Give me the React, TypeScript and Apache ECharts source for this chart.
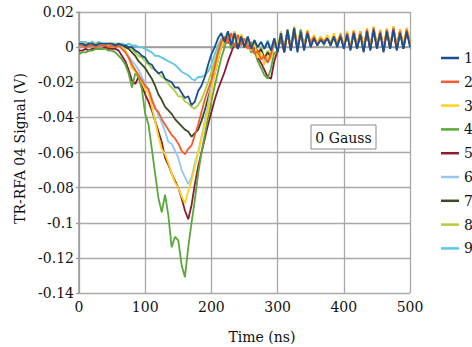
import React, { useEffect, useRef } from "react";
import * as echarts from "echarts";

// Sampling step of the recorded traces (ns)
const TIME_STEP_NS = 5;

const SERIES_NAMES = ["1", "2", "3", "4", "5", "6", "7", "8", "9"];
const COLORS = [
  "#1b4f8f",
  "#f75a2b",
  "#ffd21f",
  "#5aa73c",
  "#8b1a2e",
  "#94c8ee",
  "#3a4a22",
  "#b4cc3a",
  "#5cc6e6",
];

// Signal values in mV, one value every 5 ns from 0 to 500 ns
const S1_MV = [
  2, 2, 1, 2, 2, 1, 2, 2, 2, 2,
  2, 1, 2, 1, 1, 0, 0, -2, -3, -5,
  -6, -9, -10, -13, -15, -14, -18, -19, -20, -23,
  -23, -26, -29, -28, -33, -31, -25, -22, -17, -10,
  -4, 0, 5, 8, 3, 9, 1, 8, -1, 6,
  0, 6, -1, 4, 0, 3, -1, 3, -2, 5,
  -3, 8, -3, 10, -2, 11, -3, 9, -2, 8,
  0, 5, 1, 4, 2, 5, 1, 6, 0, 6,
  -1, 7, -2, 8, -1, 7, -3, 9, -2, 10,
  -1, 8, -3, 9, -1, 10, -2, 8, -1, 9,
  0,
];
const S2_MV = [
  1, 1, 0, 1, 1, 0, 1, 1, 1, 0,
  1, 0, 1, -1, -3, -6, -10, -13, -16, -19,
  -22, -24, -30, -35, -37, -41, -44, -47, -50, -52,
  -55, -59, -61, -58, -56, -50, -44, -37, -30, -24,
  -19, -11, -3, 3, 6, 2, 8, 0, 7, 1,
  5, -1, 3, -4, -2, -7, -5, -9, -4, 3,
  -2, 7, -1, 9, -2, 10, 0, 8, -1, 9,
  2, 6, 1, 5, 3, 5, 2, 6, 1, 7,
  0, 8, -1, 9, 0, 8, -2, 10, -1, 11,
  0, 9, -2, 10, 0, 11, -1, 9, 0, 10,
  2,
];
const S3_MV = [
  1, 1, 1, 2, 1, 1, 1, 2, 1, 1,
  1, 0, 1, 0, -2, -6, -12, -14, -16, -20,
  -24, -26, -34, -42, -51, -58, -61, -66, -72, -77,
  -80, -85, -89, -82, -76, -68, -60, -52, -44, -36,
  -25, -15, -7, 0, 4, 8, 1, 9, 2, 7,
  3, 5, -2, 2, -6, -3, -10, -5, -7, 4,
  -1, 9, 0, 10, -1, 12, 1, 9, 0, 10,
  3, 7, 2, 6, 3, 7, 2, 8, 2, 7,
  1, 9, 0, 10, 1, 9, -1, 11, 0, 12,
  1, 10, -1, 11, 1, 12, 0, 10, 1, 11,
  3,
];
const S4_MV = [
  -4, -3, -3, -2, -2, -1, -1, -1, -1, -2,
  -2, -3, -5, -7, -10, -15, -23, -15, -17, -24,
  -38, -44, -58, -72, -86, -94, -84, -96, -114, -108,
  -110, -124, -131, -114, -100, -87, -72, -60, -50, -40,
  -31, -22, -14, -6, 0, 6, -1, 7, 1, 5,
  0, 3, -3, -2, -8, -12, -16, -18, -12, -3,
  -3, 6, -2, 8, -1, 9, 0, 10, -1, 9,
  1, 5, 2, 6, 1, 6, 3, 5, 1, 6,
  0, 8, 0, 9, -1, 8, -1, 9, 0, 11,
  0, 9, -1, 10, 0, 10, -1, 9, 0, 8,
  2,
];
const S5_MV = [
  -2, -2, -1, -2, -1, -1, -1, -1, 0, -1,
  -1, -1, -2, -5, -8, -13, -19, -21, -17, -22,
  -27, -31, -36, -42, -48, -54, -63, -67, -72, -76,
  -80, -86, -93, -98, -90, -78, -68, -60, -52, -44,
  -37, -30, -24, -19, -14, -8, -3, 2, -1, 5,
  0, 4, -2, 0, -6, -9, -13, -17, -18, -8,
  -2, 5, -3, 8, -2, 10, -1, 8, 0, 9,
  2, 6, 1, 5, 3, 6, 2, 7, 2, 6,
  1, 7, 0, 8, -1, 9, 0, 8, -1, 10,
  1, 8, 0, 9, -1, 11, 0, 10, -1, 9,
  3,
];
const S6_MV = [
  1, 1, 1, 1, 1, 1, 1, 1, 1, 1,
  1, 1, 0, 0, -2, -5, -8, -10, -13, -17,
  -21, -24, -29, -34, -39, -43, -48, -54, -55, -59,
  -63, -70, -74, -78, -74, -66, -60, -51, -42, -32,
  -22, -14, -6, 1, 4, 7, 2, 8, 1, 6,
  2, 4, -2, 1, -5, -3, -8, -6, -5, 3,
  -2, 8, -1, 9, -1, 10, 1, 9, 0, 9,
  2, 6, 2, 5, 3, 6, 2, 7, 1, 7,
  1, 8, 0, 9, 1, 8, -1, 10, 0, 11,
  0, 9, -1, 10, 1, 11, 0, 9, 0, 10,
  2,
];
const S7_MV = [
  1, 1, 1, 1, 1, 1, 1, 1, 1, 1,
  1, 1, 0, 1, 0, -1, -3, -5, -8, -10,
  -12, -15, -18, -22, -27, -30, -34, -36, -38, -41,
  -43, -45, -47, -48, -51, -49, -47, -42, -36, -29,
  -22, -15, -7, 0, 3, 7, 1, 8, 0, 6,
  1, 5, -1, 3, -4, -1, -7, -3, -6, 4,
  -2, 8, -2, 9, 0, 11, -1, 9, 0, 8,
  1, 6, 2, 5, 2, 6, 1, 6, 2, 7,
  0, 8, -1, 9, 0, 9, -2, 10, -1, 10,
  0, 9, -2, 9, 0, 10, -1, 9, 0, 9,
  2,
];
const S8_MV = [
  2, 2, 2, 2, 2, 2, 2, 2, 1, 2,
  2, 2, 1, 1, 0, 0, -1, -3, -5, -6,
  -8, -10, -12, -13, -15, -17, -18, -21, -23, -25,
  -28, -28, -31, -32, -34, -35, -33, -30, -25, -20,
  -14, -8, -2, 4, 5, 8, 2, 9, 1, 7,
  2, 5, 0, 3, -3, 0, -6, -2, -4, 5,
  -1, 8, -2, 10, -1, 11, 0, 10, -1, 9,
  2, 6, 2, 6, 3, 6, 2, 7, 1, 8,
  0, 9, -1, 9, 0, 8, -2, 10, 0, 11,
  1, 10, -1, 10, 0, 12, -1, 10, 0, 11,
  2,
];
const S9_MV = [
  3, 3, 3, 2, 3, 2, 3, 2, 2, 2,
  2, 2, 2, 2, 1, 2, 1, 1, 0, 0,
  -1, -2, -3, -5, -5, -6, -7, -8, -9, -10,
  -12, -14, -15, -16, -18, -19, -17, -17, -16, -14,
  -10, -4, 1, 5, 4, 9, 2, 9, 0, 7,
  1, 6, 0, 4, 0, 3, -1, 4, -1, 5,
  -2, 9, -2, 10, -1, 11, -2, 10, -1, 9,
  1, 6, 2, 5, 2, 6, 1, 7, 1, 7,
  0, 8, -1, 9, 0, 8, -2, 9, -1, 11,
  0, 9, -2, 10, 0, 11, -1, 9, 0, 10,
  1,
];

const X_MIN = 0;
const X_MAX = 500;
const X_INTERVAL = 100;
const Y_MIN = -0.14;
const Y_MAX = 0.02;
const Y_INTERVAL = 0.02;

const FONT = "DejaVu Serif";

export default function App() {
  const ref = useRef<HTMLDivElement>(null);

  useEffect(() => {
    if (!ref.current) return;
    const chart = echarts.init(ref.current, null, { renderer: "svg" });
    const traces = [S1_MV, S2_MV, S3_MV, S4_MV, S5_MV, S6_MV, S7_MV, S8_MV, S9_MV];
    const series = traces.map((arr, i) => ({
      name: SERIES_NAMES[i],
      type: "line",
      data: arr.map((v, k) => [k * TIME_STEP_NS, v / 1000]),
      symbol: "none",
      showSymbol: false,
      z: 30 - i,
      lineStyle: { width: 1.8, color: COLORS[i] },
      itemStyle: { color: COLORS[i] },
      emphasis: { disabled: true },
    }));

    chart.setOption({
      animation: false,
      backgroundColor: "#ffffff",
      grid: { left: 79, right: 62, top: 12, bottom: 54, containLabel: false },
      xAxis: {
        type: "value",
        min: X_MIN,
        max: X_MAX,
        interval: X_INTERVAL,
        axisLine: { show: true, lineStyle: { color: "#9a9a9a", width: 1.5 } },
        axisTick: { show: true, length: 3, lineStyle: { color: "#9a9a9a", width: 1.3 } },
        splitLine: { show: true, lineStyle: { color: "#a8a8a8", width: 1.3 } },
        axisLabel: { color: "#111", fontFamily: FONT, fontSize: 14, margin: 7 },
      },
      yAxis: {
        type: "value",
        min: Y_MIN,
        max: Y_MAX,
        interval: Y_INTERVAL,
        axisLine: { show: true, lineStyle: { color: "#9a9a9a", width: 1.5 } },
        axisTick: { show: true, length: 3, lineStyle: { color: "#9a9a9a", width: 1.3 } },
        splitLine: { show: true, lineStyle: { color: "#a8a8a8", width: 1.3 } },
        axisLabel: {
          color: "#111",
          fontFamily: FONT,
          fontSize: 14,
          margin: 5,
          formatter: (v: number) => String(parseFloat(v.toFixed(2))),
        },
      },
      legend: {
        orient: "vertical",
        left: 436,
        top: 46,
        itemWidth: 18,
        itemHeight: 2.5,
        itemGap: 9.8,
        icon: "rect",
        data: SERIES_NAMES,
        textStyle: { fontFamily: FONT, fontSize: 14, color: "#111", lineHeight: 14 },
      },
      graphic: [
        {
          type: "rect",
          shape: { x: 311, y: 125, width: 65, height: 24 },
          style: { fill: "#ffffff", stroke: "#8a8a8a", lineWidth: 1 },
          z: 100,
        },
        {
          type: "text",
          x: 343.5,
          y: 137.5,
          style: {
            text: "0 Gauss",
            fontFamily: FONT,
            fontSize: 14,
            fill: "#111",
            align: "center",
            verticalAlign: "middle",
          },
          z: 101,
        },
        {
          type: "text",
          x: 262,
          y: 337,
          style: {
            text: "Time (ns)",
            fontFamily: FONT,
            fontSize: 14,
            fill: "#111",
            align: "center",
            verticalAlign: "middle",
          },
        },
        {
          type: "text",
          x: 19.5,
          y: 148.5,
          rotation: Math.PI / 2,
          style: {
            text: "TR-RFA 04 Signal (V)",
            fontFamily: FONT,
            fontSize: 14,
            fill: "#111",
            align: "center",
            verticalAlign: "middle",
          },
        },
      ],
      series,
    });

    return () => chart.dispose();
  }, []);

  return (
    <div
      ref={ref}
      style={{ position: "fixed", left: 0, top: 0, width: 472, height: 347, background: "#fff" }}
    />
  );
}
